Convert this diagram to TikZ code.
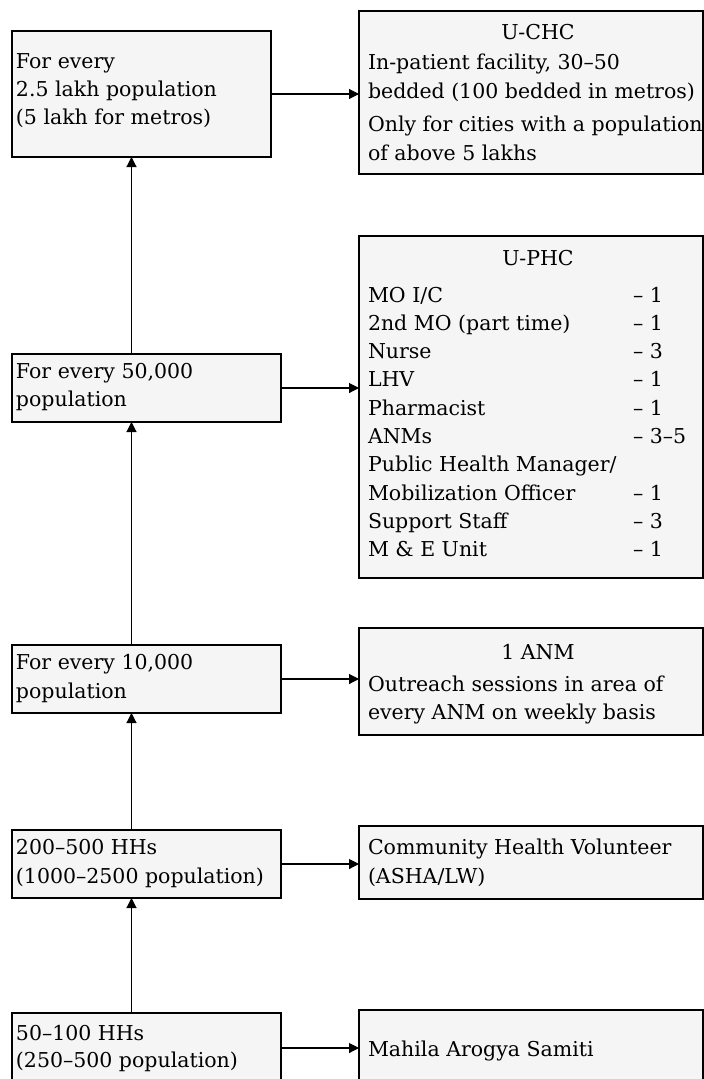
\documentclass[tikz,border=0pt]{standalone}
\usepackage{fontspec}
\setmainfont{DejaVu Serif}
\usetikzlibrary{arrows.meta}
\begin{document}
\begin{tikzpicture}[x=1pt,y=-1pt,
  box/.style={draw=black, line width=1.6pt, fill=black!4, inner sep=0pt, outer sep=0pt, anchor=north west},
  txt/.style={anchor=base west, inner sep=0pt, outer sep=0pt, font=\fontsize{20.5}{28}\selectfont},
  ttl/.style={anchor=base, inner sep=0pt, outer sep=0pt, font=\fontsize{20.5}{28}\selectfont},
  arr/.style={line width=1.1pt, -{Triangle[length=10pt,width=10pt]}}]
\useasboundingbox[fill=white] (0,0) rectangle (704,1079);
% boxes
\node[box, minimum width=259pt, minimum height=126pt] (b1) at (12,31) {};
\node[box, minimum width=344pt, minimum height=163pt] (r1) at (359,11) {};
\node[box, minimum width=269pt, minimum height=68pt] (b2) at (12,354) {};
\node[box, minimum width=344pt, minimum height=342pt] (r2) at (359,236) {};
\node[box, minimum width=269pt, minimum height=68pt] (b3) at (12,645) {};
\node[box, minimum width=344pt, minimum height=107pt] (r3) at (359,628) {};
\node[box, minimum width=269pt, minimum height=68pt] (b4) at (12,830) {};
\node[box, minimum width=344pt, minimum height=73pt] (r4) at (359,826) {};
\node[box, minimum width=269pt, minimum height=70pt] (b5) at (12,1013) {};
\node[box, minimum width=344pt, minimum height=76pt] (r5) at (359,1010) {};
% left texts
\node[txt] (t1a) at (16,68.5) {For every};
\node[txt] (t1b) at (16,96.5) {2.5 lakh population};
\node[txt] (t1c) at (16,124.5) {(5 lakh for metros)};
\node[txt] (t2a) at (16,378.5) {For every 50,000};
\node[txt] (t2b) at (16,406.5) {population};
\node[txt] (t3a) at (16,669.5) {For every 10,000};
\node[txt] (t3b) at (16,698.5) {population};
\node[txt] (t4a) at (16,854.5) {200–500 HHs};
\node[txt] (t4b) at (16,883.5) {(1000–2500 population)};
\node[txt] (t5a) at (16,1040.5) {50–100 HHs};
\node[txt] (t5b) at (16,1067.5) {(250–500 population)};
% U-CHC
\node[ttl] (r1t) at (538,39.5) {U-CHC};
\node[txt] (r1a) at (368,69.5) {In-patient facility, 30–50};
\node[txt] (r1b) at (368,98.5) {bedded (100 bedded in metros)};
\node[txt] (r1c) at (368,131.5) {Only for cities with a population};
\node[txt] (r1d) at (368,160.5) {of above 5 lakhs};
% U-PHC
\node[ttl] (r2t) at (538,265.5) {U-PHC};
\node[txt] (p1) at (368,302) {MO I/C};
\node[txt] (n1) at (633,302) {– 1};
\node[txt] (p2) at (368,330.3) {2nd MO (part time)};
\node[txt] (n2) at (633,330.3) {– 1};
\node[txt] (p3) at (368,358.6) {Nurse};
\node[txt] (n3) at (633,358.6) {– 3};
\node[txt] (p4) at (368,386.9) {LHV};
\node[txt] (n4) at (633,386.9) {– 1};
\node[txt] (p5) at (368,415.2) {Pharmacist};
\node[txt] (n5) at (633,415.2) {– 1};
\node[txt] (p6) at (368,443.5) {ANMs};
\node[txt] (n6) at (633,443.5) {– 3–5};
\node[txt] (p7) at (368,471.8) {Public Health Manager/};
\node[txt] (p8) at (368,500.1) {Mobilization Officer};
\node[txt] (n8) at (633,500.1) {– 1};
\node[txt] (p9) at (368,528.4) {Support Staff};
\node[txt] (n9) at (633,528.4) {– 3};
\node[txt] (p10) at (368,556.7) {M \& E Unit};
\node[txt] (n10) at (633,556.7) {– 1};
% 1 ANM
\node[ttl] (r3t) at (538,659.5) {1 ANM};
\node[txt] (r3a) at (368,691.5) {Outreach sessions in area of};
\node[txt] (r3b) at (368,719.5) {every ANM on weekly basis};
% CHV
\node[txt] (r4a) at (368,854.5) {Community Health Volunteer};
\node[txt] (r4b) at (368,883.5) {(ASHA/LW)};
% MAS
\node[txt] (r5a) at (368,1056.5) {Mahila Arogya Samiti};
% horizontal arrows
\draw[arr] (b1.east) -- (b1.east -| r1.west);
\draw[arr] (b2.east) -- (b2.east -| r2.west);
\draw[arr] (b3.east) -- (b3.east -| r3.west);
\draw[arr] (b4.east) -- (b4.east -| r4.west);
\draw[arr] (b5.east) -- (b5.east -| r5.west);
% vertical arrows
\coordinate (vx) at (131.5,0);
\draw[arr] (vx |- b2.north) -- (vx |- b1.south);
\draw[arr] (vx |- b3.north) -- (vx |- b2.south);
\draw[arr] (vx |- b4.north) -- (vx |- b3.south);
\draw[arr] (vx |- b5.north) -- (vx |- b4.south);
\end{tikzpicture}
\end{document}
